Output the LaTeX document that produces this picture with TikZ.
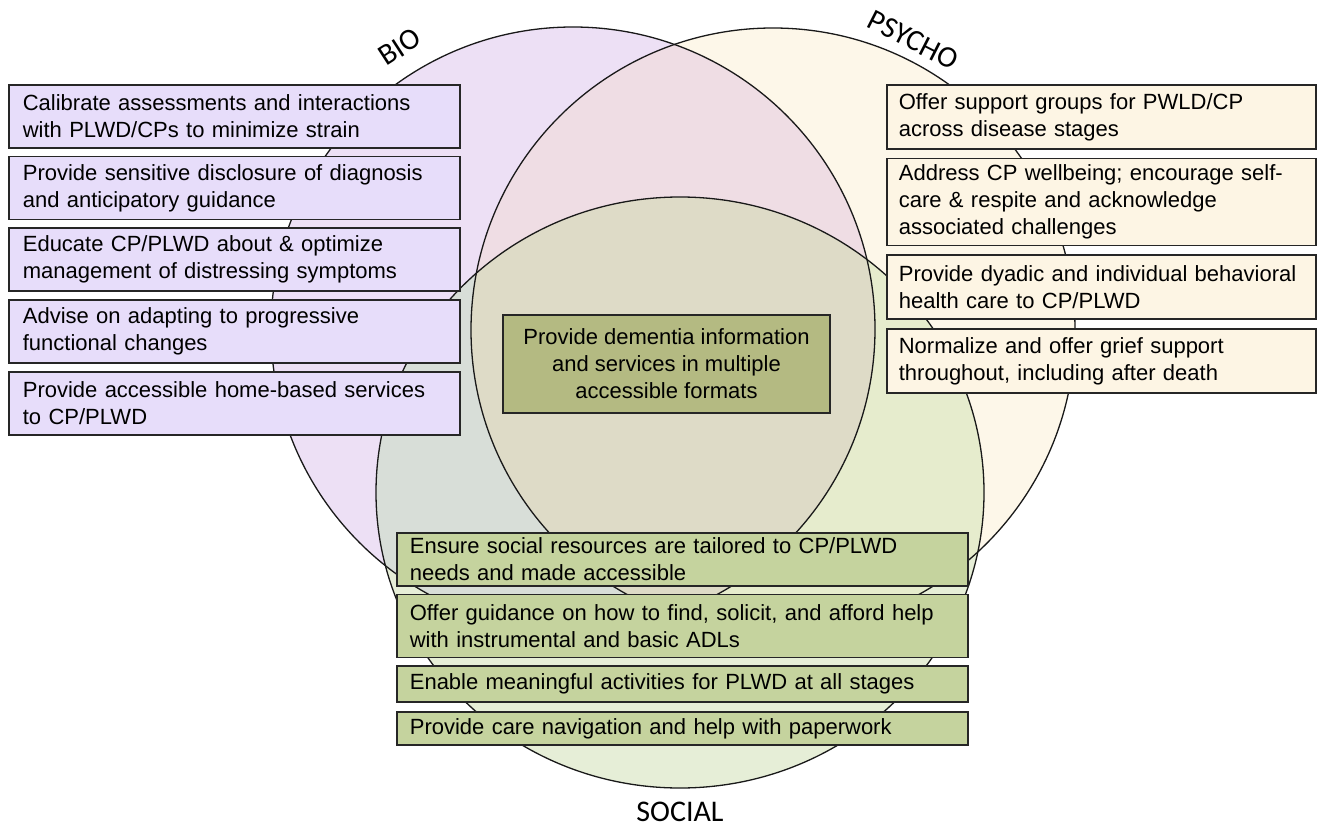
\documentclass[tikz,border=0pt]{standalone}
\usepackage{fontspec}
\setmainfont{Liberation Sans}
\newfontfamily\setfont{Carlito}
\usetikzlibrary{positioning}
\definecolor{biofill}{HTML}{EDE0F5}
\definecolor{psyfill}{HTML}{FDF7E9}
\definecolor{socfill}{HTML}{E6EED7}
\definecolor{biopsyfill}{HTML}{EFDDE4}
\definecolor{biosocfill}{HTML}{D8DED8}
\definecolor{psysocfill}{HTML}{E6ECCD}
\definecolor{allfill}{HTML}{DEDBC7}
\definecolor{bioboxfill}{HTML}{E7DDFA}
\definecolor{psyboxfill}{HTML}{FDF5E4}
\definecolor{socboxfill}{HTML}{C5D39E}
\definecolor{corefill}{HTML}{B4BA82}

\begin{document}
\begin{tikzpicture}[
  x=0.5pt, y=-0.5pt,
  box/.style={rectangle, draw=black!85, line width=0.85pt, anchor=north west, align=left, inner ysep=0.5pt, font=\fontsize{11}{13.5}\selectfont},
  biobox/.style={box, fill=bioboxfill, text width=211.5pt, inner xsep=7pt, minimum height=31.5pt},
  psybox/.style={box, fill=psyboxfill, text width=202.5pt, inner xsep=6pt, minimum height=32pt},
  socbox/.style={box, fill=socboxfill, text width=272.5pt, inner xsep=6.5pt},
  ring/.style={draw=black!90, line width=0.65pt},
  setname/.style={font=\setfont\fontsize{15}{18}\selectfont}
]
  \useasboundingbox (0,0) rectangle (1322,829);

  \coordinate (bioc) at (573,329);
  \coordinate (psyc) at (773,330);
  \coordinate (socc) at (680,492.5);

  \fill[biofill] (bioc) circle[radius=151pt];
  \fill[psyfill] (psyc) circle[radius=151pt];
  \fill[socfill] (socc) ellipse[x radius=152pt, y radius=147.75pt];
  \begin{scope}
    \clip (psyc) circle[radius=151pt];
    \fill[psysocfill] (socc) ellipse[x radius=152pt, y radius=147.75pt];
  \end{scope}
  \begin{scope}
    \clip (bioc) circle[radius=151pt];
    \fill[biopsyfill] (psyc) circle[radius=151pt];
    \fill[biosocfill] (socc) ellipse[x radius=152pt, y radius=147.75pt];
    \clip (psyc) circle[radius=151pt];
    \fill[allfill] (socc) ellipse[x radius=152pt, y radius=147.75pt];
  \end{scope}
  \draw[ring] (bioc) circle[radius=151pt];
  \draw[ring] (psyc) circle[radius=151pt];
  \draw[ring] (socc) ellipse[x radius=152pt, y radius=147.75pt];

  \node[setname, rotate=33] (bio) at (400,47) {BIO};
  \node[setname, rotate=-27] (psy) at (913,40) {PSYCHO};
  \node[setname] (soc) at (680,812) {SOCIAL};

  \node[biobox] (bio1) at (8,84) {Calibrate assessments and interactions\\with PLWD/CPs to minimize strain};
  \node[biobox, below=3.5pt of bio1] (bio2) {Provide sensitive disclosure of diagnosis\\and anticipatory guidance};
  \node[biobox, below=3.5pt of bio2] (bio3) {Educate CP/PLWD about \& optimize\\management of distressing symptoms};
  \node[biobox, below=3.5pt of bio3] (bio4) {Advise on adapting to progressive\\functional changes};
  \node[biobox, below=3.5pt of bio4] (bio5) {Provide accessible home-based services\\to CP/PLWD};

  \node[psybox] (psy1) at (886,84) {Offer support groups for PWLD/CP\\across disease stages};
  \node[psybox, below=4pt of psy1, minimum height=43.5pt] (psy2) {Address CP wellbeing; encourage self-\\care \& respite and acknowledge\\associated challenges};
  \node[psybox, below=4pt of psy2] (psy3) {Provide dyadic and individual behavioral\\health care to CP/PLWD};
  \node[psybox, below=4pt of psy3] (psy4) {Normalize and offer grief support\\throughout, including after death};

  \node[socbox, minimum height=26.5pt] (soc1) at (396,532) {Ensure social resources are tailored to CP/PLWD\\needs and made accessible};
  \node[socbox, below=3.5pt of soc1, minimum height=31.5pt] (soc2) {Offer guidance on how to find, solicit, and afford help\\with instrumental and basic ADLs};
  \node[socbox, below=3.5pt of soc2, minimum height=18pt] (soc3) {Enable meaningful activities for PLWD at all stages};
  \node[socbox, below=4pt of soc3, minimum height=16.5pt] (soc4) {Provide care navigation and help with paperwork};

  \node[box, anchor=center, align=center, fill=corefill, minimum width=163.5pt, minimum height=49pt] (core) at (666.5,364) {Provide dementia information\\and services in multiple\\accessible formats};
\end{tikzpicture}
\end{document}
